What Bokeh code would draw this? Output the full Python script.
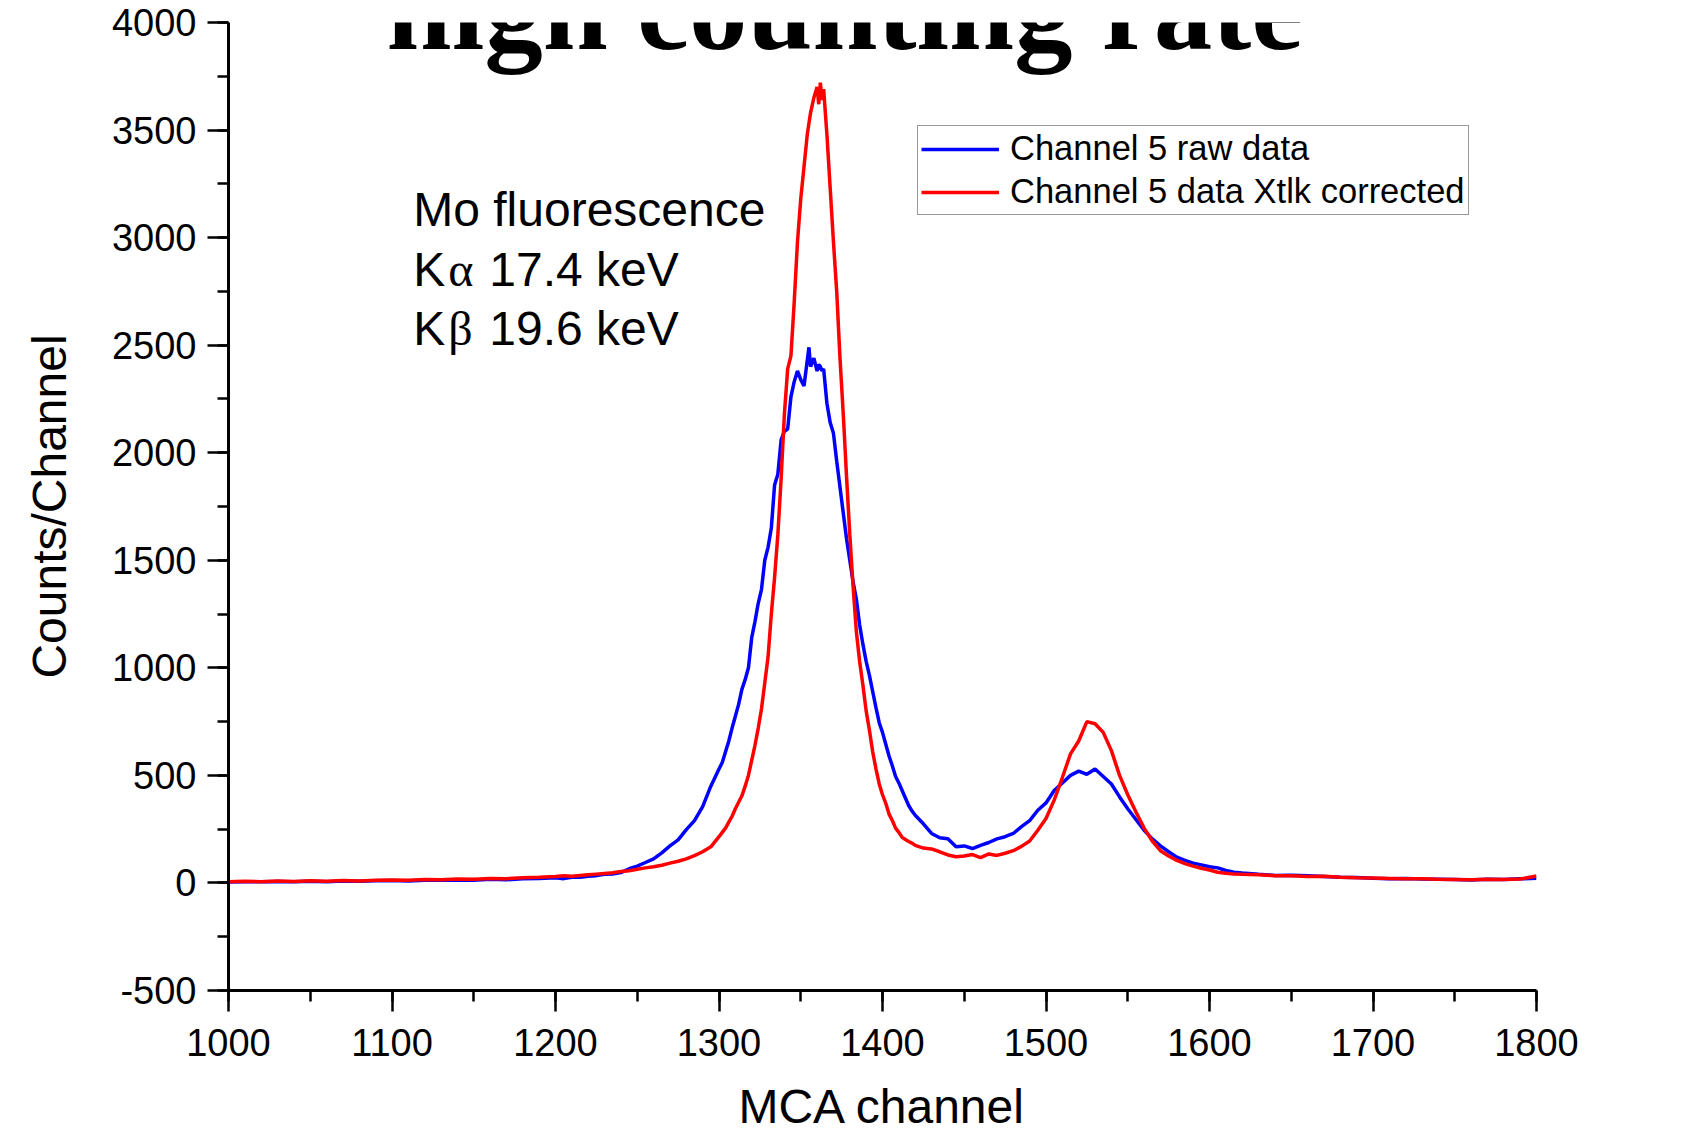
from bokeh.plotting import figure
from bokeh.models import Range1d, SingleIntervalTicker, Label, NumeralTickFormatter
from bokeh.embed import file_html
from bokeh.resources import INLINE

# ---------------- data ----------------
channel = [
    1000, 1010, 1020, 1030, 1040, 1050, 1060, 1070, 1080, 1090,
    1100, 1110, 1120, 1130, 1140, 1150, 1160, 1170, 1180, 1190,
    1200, 1205, 1210, 1215, 1220, 1225, 1230, 1235, 1240, 1245,
    1250, 1255, 1260, 1265, 1270, 1275, 1280, 1285, 1290, 1295,
    1300, 1302, 1304, 1306, 1308, 1310, 1312, 1314, 1316, 1318,
    1320, 1322, 1324, 1326, 1328, 1330, 1332, 1334, 1336, 1338,
    1340, 1342, 1344, 1346, 1348, 1350, 1352, 1354, 1355, 1356,
    1358, 1360, 1361, 1362, 1363, 1364, 1366, 1368, 1370, 1372,
    1374, 1376, 1378, 1380, 1382, 1384, 1386, 1388, 1390, 1392,
    1394, 1396, 1398, 1400, 1402, 1404, 1406, 1408, 1410, 1412,
    1414, 1416, 1418, 1420,
    1425, 1430, 1435, 1440, 1445, 1450, 1455, 1460, 1465, 1470,
    1475, 1480, 1485, 1490, 1495, 1500, 1505, 1510, 1515, 1520,
    1525, 1530, 1535, 1540, 1545, 1550, 1555, 1560, 1565, 1570,
    1575, 1580, 1585, 1590, 1595, 1600, 1605, 1610, 1615, 1620,
    1630, 1640, 1650, 1660, 1670, 1680, 1690, 1700, 1710, 1720,
    1730, 1740, 1750, 1760, 1770, 1780, 1790, 1800,
]

raw_counts = [
    4, 6, 5, 7, 6, 8, 5, 9, 8, 10,
    11, 9, 13, 12, 14, 12, 17, 15, 19, 21,
    24, 20, 26, 27, 31, 34, 40, 42, 48, 66,
    78, 95, 112, 140, 172, 200, 248, 290, 355, 450,
    530, 560, 610, 660, 720, 775, 830, 900, 945, 1000,
    1140, 1215, 1300, 1365, 1500, 1560, 1650, 1850, 1900, 2060,
    2100, 2110, 2260, 2330, 2380, 2340, 2310, 2430, 2490, 2400,
    2440, 2380, 2410, 2400, 2380, 2390, 2230, 2140, 2090, 1960,
    1840, 1720, 1600, 1500, 1400, 1320, 1200, 1110, 1030, 965,
    890, 815, 745, 700, 645, 590, 545, 495, 465, 430,
    395, 360, 335, 315,
    275, 230, 210, 205, 168, 172, 160, 175, 188, 205,
    215, 230, 262, 290, 338, 372, 430, 465, 500, 520,
    505, 530, 495, 460, 400, 345, 295, 245, 205, 172,
    145, 120, 105, 92, 84, 75, 70, 58, 50, 46,
    40, 35, 36, 33, 30, 26, 25, 22, 20, 21,
    18, 17, 16, 14, 17, 16, 19, 22,
]

corrected_counts = [
    6, 8, 6, 9, 7, 10, 8, 11, 9, 12,
    14, 12, 16, 15, 18, 17, 21, 20, 24, 26,
    30, 33, 31, 35, 38, 41, 44, 47, 53, 57,
    64, 70, 75, 82, 92, 101, 112, 127, 145, 168,
    215, 235, 255, 283, 310, 345, 375, 405, 450, 500,
    570, 640, 720, 810, 930, 1050, 1250, 1420, 1620, 1880,
    2180, 2390, 2450, 2700, 2980, 3180, 3330, 3480, 3530, 3580,
    3650, 3700, 3620, 3720, 3640, 3690, 3480, 3230, 2980, 2750,
    2440, 2180, 1890, 1620, 1380, 1170, 1030, 920, 800, 710,
    610, 530, 460, 410, 370, 320, 290, 255, 235, 212,
    202, 193, 185, 175,
    162, 158, 145, 130, 122, 125, 132, 118, 135, 128,
    138, 150, 170, 195, 245, 300, 385, 490, 600, 660,
    750, 740, 700, 615, 500, 410, 330, 255, 195, 150,
    125, 105, 90, 78, 68, 60, 50, 45, 42, 40,
    38, 34, 33, 30, 31, 27, 24, 23, 21, 19,
    20, 17, 16, 15, 17, 16, 18, 32,
]

series_names = ["Channel 5 raw data", "Channel 5 data Xtlk corrected"]
x_label = "MCA channel"
y_label = "Counts/Channel"
x_ticks_interval = 100
y_ticks_interval = 500

# ---------------- figure ----------------
p = figure(
    width=1702, height=1135,
    output_backend="svg", toolbar_location=None,
    x_range=Range1d(1000, 1800), y_range=Range1d(-500, 4000),
    min_border_left=228, min_border_right=166,
    min_border_top=22, min_border_bottom=145,
    background_fill_color="white", border_fill_color="white",
)
p.outline_line_color = None
p.xgrid.visible = False
p.ygrid.visible = False

p.xaxis.ticker = SingleIntervalTicker(interval=x_ticks_interval, num_minor_ticks=2)
p.yaxis.ticker = SingleIntervalTicker(interval=y_ticks_interval, num_minor_ticks=2)
p.yaxis.formatter = NumeralTickFormatter(format="0")
p.xaxis.formatter = NumeralTickFormatter(format="0")
p.xaxis.axis_label = x_label
p.yaxis.axis_label = y_label

for ax in (p.xaxis[0], p.yaxis[0]):
    ax.axis_line_color = "black"
    ax.axis_line_width = 3
    ax.major_tick_in = 0
    ax.major_tick_out = 21
    ax.minor_tick_in = 0
    ax.minor_tick_out = 11
    ax.major_tick_line_color = "black"
    ax.minor_tick_line_color = "black"
    ax.major_tick_line_width = 2.5
    ax.minor_tick_line_width = 2.5
    ax.major_label_text_font = "Liberation Sans"
    ax.major_label_text_font_size = "38px"
    ax.major_label_text_color = "black"
    ax.axis_label_text_font = "Liberation Sans"
    ax.axis_label_text_font_size = "48px"
    ax.axis_label_text_font_style = "normal"
    ax.axis_label_text_color = "black"

p.xaxis.major_label_standoff = 17
p.xaxis.axis_label_standoff = 21
p.yaxis.major_label_standoff = 11
p.yaxis.axis_label_standoff = 33

p.line(channel, raw_counts, line_color="#0000ff", line_width=3.5,
       legend_label=series_names[0])
p.line(channel, corrected_counts, line_color="#ff0000", line_width=3.5,
       legend_label=series_names[1])

leg = p.legend[0]
leg.location = (689, 775)
leg.border_line_color = "#333333"
leg.border_line_width = 1.2
leg.background_fill_color = "white"
leg.background_fill_alpha = 1
leg.label_text_font = "Liberation Sans"
leg.label_text_font_size = "34.5px"
leg.label_text_color = "black"
leg.glyph_width = 78
leg.glyph_height = 34
leg.label_height = 34
leg.label_standoff = 11
leg.padding = 3
leg.spacing = 4
leg.margin = 0

# slide title (partly cut off at the top)
p.add_layout(Label(x=1377, y=4059, text="high counting rate",
                   text_font="Liberation Serif", text_font_style="bold",
                   text_font_size="117px", text_align="center",
                   text_baseline="alphabetic", text_color="black"))

# annotation text
ann_x = 1113
sans48 = dict(text_font="Liberation Sans", text_font_size="48px",
              text_baseline="alphabetic", text_color="black")
serif48 = dict(text_font="Liberation Serif", text_font_size="48px",
               text_baseline="alphabetic", text_color="black")
p.add_layout(Label(x=ann_x, y=3129, text="Mo fluorescence", **sans48))
for yv, greek, rest in ((2850, "α", "17.4 keV"), (2579, "β", "19.6 keV")):
    p.add_layout(Label(x=ann_x, y=yv, text="K", **sans48))
    p.add_layout(Label(x=ann_x, y=yv, x_offset=35, text=greek, **serif48))
    p.add_layout(Label(x=ann_x, y=yv, x_offset=76, text=rest, **sans48))

open("out.html", "w").write(file_html(p, INLINE))
